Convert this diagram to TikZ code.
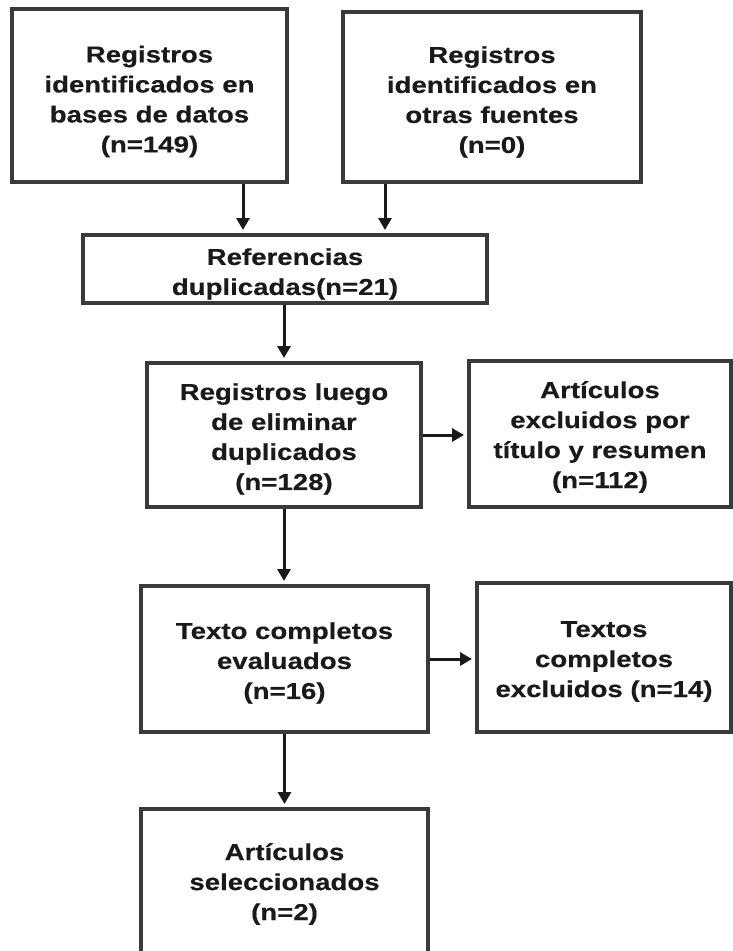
\documentclass[tikz,border=0pt]{standalone}
\usepackage{fontspec}
\setmainfont{Liberation Sans}[FakeStretch=1.2, BoldFeatures={FakeBold=0.4}]
\usetikzlibrary{arrows.meta,calc}
\definecolor{boxline}{HTML}{3A3A3A}
\definecolor{ink}{HTML}{1A1A1A}
\begin{document}
\begin{tikzpicture}[x=1pt,y=-1pt,
  flowbox/.style={draw=boxline, line width=4pt, fill=white, inner sep=0pt},
  boxtext/.style={align=center, inner sep=0pt, text=ink,
    font=\fontsize{23}{30}\selectfont\bfseries},
  arr/.style={draw=ink, line width=3pt, shorten >=3pt,
    -{Triangle[length=12pt,width=13pt]}}]
\useasboundingbox (0,0) rectangle (733,951);
\clip (0,0) rectangle (733,951);

% identification
\node[flowbox, minimum width=275pt, minimum height=173pt] (b1) at (149.5,95.5) {};
\node[boxtext] (t1) at ($(b1.center)+(0,6)$)
  {Registros\\identificados en\\bases de datos\\(n=149)};
\node[flowbox, minimum width=298pt, minimum height=170pt] (b2) at (492,97) {};
\node[boxtext] (t2) at ($(b2.center)+(0,5)$)
  {Registros\\identificados en\\otras fuentes\\(n=0)};

% screening
\node[flowbox, minimum width=404pt, minimum height=68pt] (b3) at (285,269) {};
\node[boxtext] (t3) at ($(b3.center)+(0,5)$)
  {Referencias\\duplicadas(n=21)};
\node[flowbox, minimum width=274pt, minimum height=144pt] (b4) at (284,435) {};
\node[boxtext] (t4) at ($(b4.center)+(0,4)$)
  {Registros luego\\de eliminar\\duplicados\\(n=128)};
\node[flowbox, minimum width=262pt, minimum height=146pt] (b5) at (600,434) {};
\node[boxtext] (t5) at ($(b5.center)+(0,3)$)
  {Artículos\\excluidos por\\título y resumen\\(n=112)};

% eligibility
\node[flowbox, minimum width=287pt, minimum height=146pt] (b6) at (284.5,659) {};
\node[boxtext] (t6) at ($(b6.center)+(0,4)$)
  {Texto completos\\evaluados\\(n=16)};
\node[flowbox, minimum width=254pt, minimum height=149pt] (b7) at (604,657.5) {};
\node[boxtext] (t7) at ($(b7.center)+(0,4)$)
  {Textos\\completos\\excluidos (n=14)};

% inclusion
\node[flowbox, minimum width=287pt, minimum height=148pt] (b8) at (284.5,883) {};
\node[boxtext] (t8) at ($(b8.center)+(0,1)$)
  {Artículos\\seleccionados\\(n=2)};

% connectors
\coordinate (p1) at ($(b1.south)+(93.5,0)$);
\coordinate (p2) at ($(b2.south)+(-107,0)$);
\draw[arr] (p1) -- (p1 |- b3.north);
\draw[arr] (p2) -- (p2 |- b3.north);
\draw[arr] (b3.south -| b4.north) -- (b4.north);
\draw[arr] (b4.east) -- (b4.east -| b5.west);
\draw[arr] (b4.south) -- (b4.south |- b6.north);
\draw[arr] (b6.east) -- (b6.east -| b7.west);
\draw[arr] (b6.south) -- (b6.south |- b8.north);
\end{tikzpicture}
\end{document}
